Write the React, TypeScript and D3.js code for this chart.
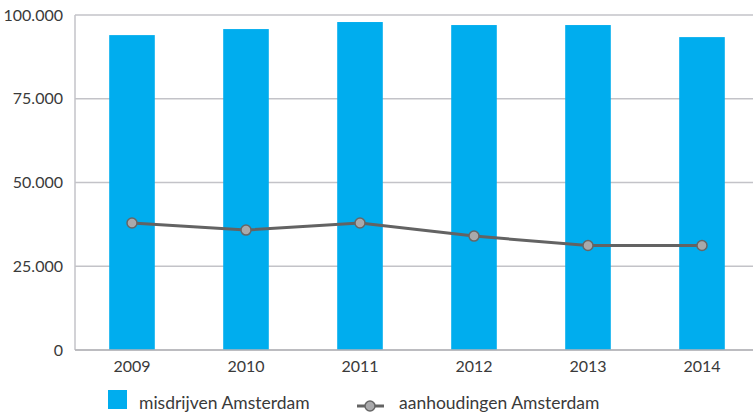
import { useEffect, useRef } from 'react';
import * as d3 from 'd3';

const years = ['2009', '2010', '2011', '2012', '2013', '2014'];
const misdrijven = [94000, 95800, 97900, 97000, 97000, 93400];
const aanhoudingen = [37900, 35800, 37900, 34000, 31200, 31200];
const yTicks = [0, 25000, 50000, 75000, 100000];

const width = 753;
const height = 413;
const margin = { top: 15, right: 0, bottom: 63, left: 75 };
const font = 'Lato, "Open Sans", sans-serif';

const fmt = (v: number) => (v === 0 ? '0' : d3.format(',')(v).replace(/,/g, '.'));

const App = () => {
  const ref = useRef<SVGSVGElement>(null);

  useEffect(() => {
    const svg = d3.select(ref.current);
    svg.selectAll('*').remove();

    const x = d3
      .scaleBand()
      .domain(years)
      .range([margin.left, margin.left + 684])
      .paddingInner(0.6)
      .paddingOuter(0.3);
    const y = d3
      .scaleLinear()
      .domain([0, 100000])
      .range([height - margin.bottom, margin.top]);

    // gridlines
    svg
      .append('g')
      .selectAll('line')
      .data(yTicks)
      .enter()
      .append('line')
      .attr('x1', margin.left)
      .attr('x2', width)
      .attr('y1', (d: number) => y(d))
      .attr('y2', (d: number) => y(d))
      .style('stroke', '#c3c3c8')
      .style('stroke-width', 1.5);

    // left axis line
    svg
      .append('line')
      .attr('x1', margin.left)
      .attr('x2', margin.left)
      .attr('y1', y(100000))
      .attr('y2', y(0))
      .style('stroke', '#c3c3c8')
      .style('stroke-width', 1.5);

    // y labels
    svg
      .append('g')
      .selectAll('text')
      .data(yTicks)
      .enter()
      .append('text')
      .attr('x', 63)
      .attr('y', (d: number) => y(d))
      .attr('dy', '0.35em')
      .attr('text-anchor', 'end')
      .style('font-family', font)
      .style('font-size', '16px')
      .style('fill', '#3a3a3a')
      .text((d: number) => fmt(d));

    // bars
    svg
      .append('g')
      .selectAll('rect')
      .data(misdrijven)
      .enter()
      .append('rect')
      .attr('x', (_d: number, i: number) => x(years[i]) as number)
      .attr('width', x.bandwidth())
      .attr('y', (d: number) => y(d))
      .attr('height', (d: number) => y(0) - y(d))
      .attr('fill', '#00adee');

    // baseline drawn again over bars
    svg
      .append('line')
      .attr('x1', margin.left)
      .attr('x2', width)
      .attr('y1', y(0))
      .attr('y2', y(0))
      .style('stroke', '#b4b4b8')
      .style('stroke-width', 1.5);

    // x labels
    svg
      .append('g')
      .selectAll('text')
      .data(years)
      .enter()
      .append('text')
      .attr('x', (d: string) => (x(d) as number) + x.bandwidth() / 2)
      .attr('y', y(0) + 22)
      .attr('text-anchor', 'middle')
      .style('font-family', font)
      .style('font-size', '16px')
      .style('fill', '#3a3a3a')
      .text((d: string) => d);

    // line
    const cx = (i: number) => (x(years[i]) as number) + x.bandwidth() / 2;
    const line = d3
      .line<number>()
      .x((_d, i) => cx(i))
      .y((d) => y(d));
    svg
      .append('path')
      .datum(aanhoudingen)
      .attr('d', line)
      .attr('fill', 'none')
      .style('stroke', '#636363')
      .style('stroke-width', 3);

    svg
      .append('g')
      .selectAll('circle')
      .data(aanhoudingen)
      .enter()
      .append('circle')
      .attr('cx', (_d: number, i: number) => cx(i))
      .attr('cy', (d: number) => y(d))
      .attr('r', 5)
      .attr('fill', '#a9a9ab')
      .style('stroke', '#666')
      .style('stroke-width', 1.5);

    // legend
    const lg = svg.append('g');
    lg.append('rect')
      .attr('x', 108)
      .attr('y', 390)
      .attr('width', 19)
      .attr('height', 19)
      .attr('fill', '#00adee');
    lg.append('text')
      .attr('x', 139)
      .attr('y', 409)
      .style('font-family', font)
      .style('font-size', '17.5px')
      .style('fill', '#3a3a3a')
      .text('misdrijven Amsterdam');
    lg.append('line')
      .attr('x1', 357)
      .attr('x2', 384)
      .attr('y1', 406)
      .attr('y2', 406)
      .style('stroke', '#636363')
      .style('stroke-width', 3);
    lg.append('circle')
      .attr('cx', 370)
      .attr('cy', 406)
      .attr('r', 5)
      .attr('fill', '#a9a9ab')
      .style('stroke', '#666')
      .style('stroke-width', 1.5);
    lg.append('text')
      .attr('x', 399)
      .attr('y', 409)
      .style('font-family', font)
      .style('font-size', '17.5px')
      .style('fill', '#3a3a3a')
      .text('aanhoudingen Amsterdam');
  }, []);

  return (
    <div style={{ position: 'absolute', left: 0, top: 0 }}>
      <svg ref={ref} width={width} height={height} style={{ display: 'block', background: 'white' }} />
    </div>
  );
};

export default App;
